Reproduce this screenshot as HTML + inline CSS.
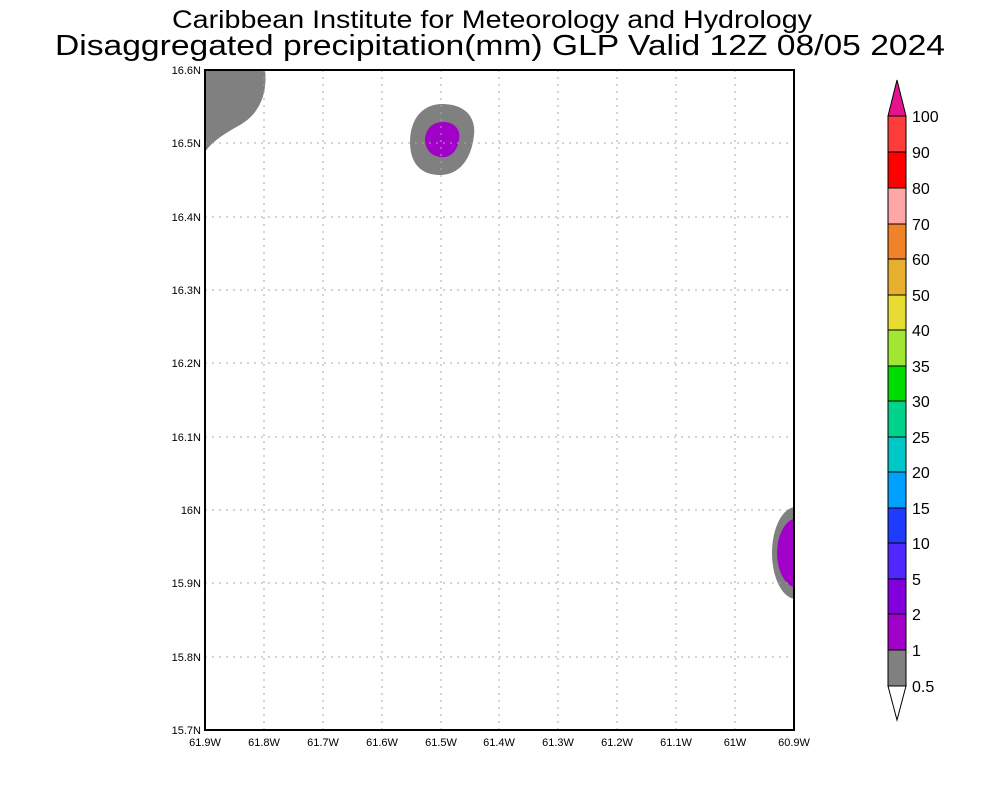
<!DOCTYPE html>
<html><head><style>
body{margin:0;background:#fff}
svg text{font-family:"Liberation Sans",sans-serif}
</style></head><body>
<svg width="1000" height="800" xmlns="http://www.w3.org/2000/svg">
<rect width="1000" height="800" fill="#fff"/>
<text x="492" y="28" font-size="25" text-anchor="middle" textLength="640" lengthAdjust="spacingAndGlyphs">Caribbean Institute for Meteorology and Hydrology</text>
<text x="500" y="55" font-size="29" text-anchor="middle" textLength="890" lengthAdjust="spacingAndGlyphs">Disaggregated precipitation(mm) GLP Valid 12Z 08/05 2024</text>
<clipPath id="c"><rect x="205" y="70" width="589" height="660"/></clipPath>
<g clip-path="url(#c)">
<path d="M205,70 L265,70 C268,95 258,115 240,125 C222,135 212,142 205,152 Z" fill="#808080"/>
<path d="M442,104 C466,104 476,118 474,135 C472,155 462,176 438,175 C418,174 410,160 410,142 C410,120 422,104 442,104 Z" fill="#808080"/>
<path d="M443,122 C455,122 461,130 459,140 C457,152 450,158 441,157 C430,156 425,148 425,139 C426,128 433,122 443,122 Z" fill="#a000c8"/>
<ellipse cx="796" cy="553" rx="24" ry="46" fill="#808080"/>
<ellipse cx="798" cy="553" rx="21" ry="35" fill="#a000c8"/>
</g>
<g stroke="#aaa" stroke-width="1" stroke-dasharray="2,5">
<line x1="264" y1="70" x2="264" y2="730"/><line x1="323" y1="70" x2="323" y2="730"/><line x1="382" y1="70" x2="382" y2="730"/><line x1="441" y1="70" x2="441" y2="730"/><line x1="499" y1="70" x2="499" y2="730"/><line x1="558" y1="70" x2="558" y2="730"/><line x1="617" y1="70" x2="617" y2="730"/><line x1="676" y1="70" x2="676" y2="730"/><line x1="735" y1="70" x2="735" y2="730"/>
<line x1="205" y1="657" x2="794" y2="657"/><line x1="205" y1="583" x2="794" y2="583"/><line x1="205" y1="510" x2="794" y2="510"/><line x1="205" y1="437" x2="794" y2="437"/><line x1="205" y1="363" x2="794" y2="363"/><line x1="205" y1="290" x2="794" y2="290"/><line x1="205" y1="217" x2="794" y2="217"/><line x1="205" y1="143" x2="794" y2="143"/>
</g>
<rect x="205" y="70" width="589" height="660" fill="none" stroke="#000" stroke-width="2"/>
<g font-size="11" text-anchor="end">
<text x="201" y="734">15.7N</text><text x="201" y="661">15.8N</text><text x="201" y="587">15.9N</text><text x="201" y="514">16N</text><text x="201" y="441">16.1N</text><text x="201" y="367">16.2N</text><text x="201" y="294">16.3N</text><text x="201" y="221">16.4N</text><text x="201" y="147">16.5N</text><text x="201" y="74">16.6N</text>
</g>
<g font-size="11" text-anchor="middle">
<text x="205" y="746">61.9W</text><text x="264" y="746">61.8W</text><text x="323" y="746">61.7W</text><text x="382" y="746">61.6W</text><text x="441" y="746">61.5W</text><text x="499" y="746">61.4W</text><text x="558" y="746">61.3W</text><text x="617" y="746">61.2W</text><text x="676" y="746">61.1W</text><text x="735" y="746">61W</text><text x="794" y="746">60.9W</text>
</g>
<g stroke="#000" stroke-width="1">
<polygon points="888,116 906,116 897,80" fill="#e6148c"/>
<rect x="888" y="116" width="18" height="36" fill="#ff3c3c"/>
<rect x="888" y="152" width="18" height="36" fill="#ff0000"/>
<rect x="888" y="188" width="18" height="36" fill="#ffa6a6"/>
<rect x="888" y="224" width="18" height="35" fill="#f08228"/>
<rect x="888" y="259" width="18" height="36" fill="#e6af2d"/>
<rect x="888" y="295" width="18" height="35" fill="#e6dc32"/>
<rect x="888" y="330" width="18" height="36" fill="#a0e632"/>
<rect x="888" y="366" width="18" height="35" fill="#00dc00"/>
<rect x="888" y="401" width="18" height="36" fill="#00d28c"/>
<rect x="888" y="437" width="18" height="35" fill="#00c8c8"/>
<rect x="888" y="472" width="18" height="36" fill="#00a0ff"/>
<rect x="888" y="508" width="18" height="35" fill="#1e3cff"/>
<rect x="888" y="543" width="18" height="36" fill="#5028ff"/>
<rect x="888" y="579" width="18" height="35" fill="#8200dc"/>
<rect x="888" y="614" width="18" height="36" fill="#a000c8"/>
<rect x="888" y="650" width="18" height="36" fill="#808080"/>
<polygon points="888,686 906,686 897,720" fill="#fff"/>
</g>
<g font-size="16">
<text x="912" y="122">100</text><text x="912" y="158">90</text><text x="912" y="194">80</text><text x="912" y="230">70</text><text x="912" y="265">60</text><text x="912" y="301">50</text><text x="912" y="336">40</text><text x="912" y="372">35</text><text x="912" y="407">30</text><text x="912" y="443">25</text><text x="912" y="478">20</text><text x="912" y="514">15</text><text x="912" y="549">10</text><text x="912" y="585">5</text><text x="912" y="620">2</text><text x="912" y="656">1</text><text x="912" y="692">0.5</text>
</g>
</svg>
</body></html>
